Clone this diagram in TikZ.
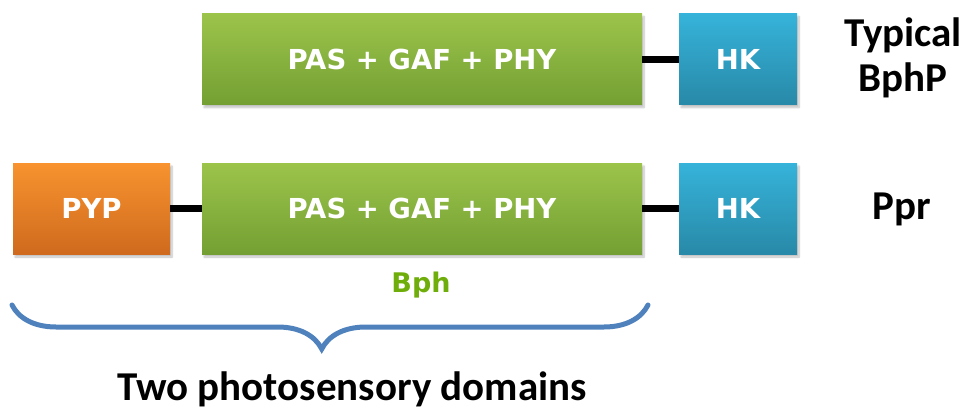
\documentclass[tikz,border=0pt]{standalone}
\usepackage{fontspec}
\setmainfont{Carlito}
\newfontfamily\boxfont{DejaVu Sans}
\usetikzlibrary{decorations.pathreplacing,shadows.blur}
\definecolor{grnT}{HTML}{9CC44B}
\definecolor{grnB}{HTML}{74A033}
\definecolor{orgT}{HTML}{F8932F}
\definecolor{orgB}{HTML}{CF6A1E}
\definecolor{bluT}{HTML}{36B3DA}
\definecolor{bluB}{HTML}{2889A8}
\definecolor{braceblue}{HTML}{4F81BD}
\definecolor{bphgreen}{HTML}{6FAE0A}
\tikzset{
  dombox/.style={minimum height=91pt, inner sep=0pt, text=white,
    font=\boxfont\bfseries\fontsize{27.5}{30}\selectfont,
    blur shadow={shadow xshift=2pt, shadow yshift=-3pt, shadow blur steps=6, shadow opacity=25}},
  phybox/.style={dombox, minimum width=440pt, top color=grnT, bottom color=grnB},
  pypbox/.style={dombox, minimum width=157pt, top color=orgT, bottom color=orgB},
  hkbox/.style={dombox, minimum width=118pt, top color=bluT, bottom color=bluB},
  linker/.style={line width=7pt, black},
  biglabel/.style={font=\bfseries\fontsize{41}{44}\selectfont, inner sep=0pt}
}
\begin{document}
\begin{tikzpicture}[x=1pt, y=-1pt]
  \useasboundingbox (0,0) rectangle (970,415);
  % first row: typical bacteriophytochrome
  \node[phybox] (phy1) at (422,59) {PAS + GAF + PHY};
  \node[hkbox]  (hk1)  at (738,59) {HK};
  \draw[linker] (phy1.east) -- (hk1.west);
  \node[biglabel] (typ) at (903,35) {Typical};
  \node[biglabel] (bphp) at (903,80) {BphP};
  % second row: Ppr
  \node[pypbox] (pyp)  at (91.5,208.5) {PYP};
  \node[phybox] (phy2) at (422,208.5) {PAS + GAF + PHY};
  \node[hkbox]  (hk2)  at (738,208.5) {HK};
  \draw[linker] (pyp.east) -- (phy2.west);
  \draw[linker] (phy2.east) -- (hk2.west);
  \node[biglabel] (ppr) at (902,209) {Ppr};
  \node[font=\boxfont\bfseries\fontsize{27}{30}\selectfont, text=bphgreen] (bph) at (421,285) {Bph};
  % brace spanning both photosensory domains
  \coordinate (bl) at (12,305);
  \coordinate (br) at (648,305);
  \draw[braceblue, line width=5pt, line cap=round,
        decorate, decoration={brace, mirror, amplitude=44pt, aspect=0.487}] (bl) -- (br);
  \node[biglabel] (two) at (352,389) {Two photosensory domains};
\end{tikzpicture}
\end{document}
